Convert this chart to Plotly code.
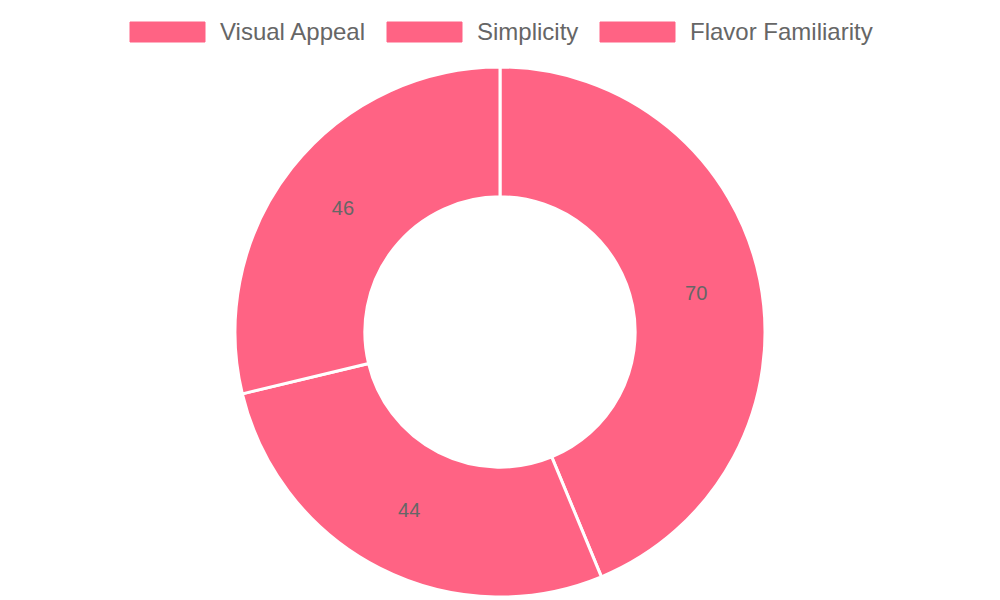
import plotly.graph_objects as go

labels = ["Visual Appeal", "Simplicity", "Flavor Familiarity"]
values = [70, 44, 46]
color = "#ff6384"

# legend box left edges along the top (px)
legend_x = [130, 387, 600]
box_w = 75

width = 1000
height = 600
mt, mb = 67, 3
plot_h = height - mt - mb


def py(v):
    # pixel row -> paper y
    return (height - mb - v) / plot_h


pie = go.Pie(
    labels=labels,
    values=values,
    hole=0.51,
    sort=False,
    direction="clockwise",
    rotation=0,
    marker=dict(colors=[color] * len(values), line=dict(color="#ffffff", width=3)),
    textinfo="value",
    textposition="inside",
    insidetextorientation="horizontal",
    textfont=dict(color="#666666", size=20, family="Liberation Sans, Arial, sans-serif"),
    showlegend=False,
    hoverinfo="label+value",
)

shapes = []
annotations = []
for lab, x0 in zip(labels, legend_x):
    shapes.append(dict(
        type="rect", xref="paper", yref="paper",
        x0=x0 / width, x1=(x0 + box_w) / width,
        y0=py(42), y1=py(22),
        fillcolor=color, line=dict(color=color, width=1),
    ))
    annotations.append(dict(
        text=lab, xref="paper", yref="paper",
        x=(x0 + box_w + 13) / width, y=py(31),
        xanchor="left", yanchor="middle", showarrow=False,
        font=dict(color="#666666", size=24, family="Liberation Sans, Arial, sans-serif"),
    ))

layout = go.Layout(
    width=width,
    height=height,
    margin=dict(t=mt, b=mb, l=0, r=0),
    paper_bgcolor="#ffffff",
    plot_bgcolor="#ffffff",
    shapes=shapes,
    annotations=annotations,
)

fig = go.Figure(data=[pie], layout=layout)
fig.write_html("out.html", config={"displayModeBar": False},
               post_script="document.body.style.margin='0';")
